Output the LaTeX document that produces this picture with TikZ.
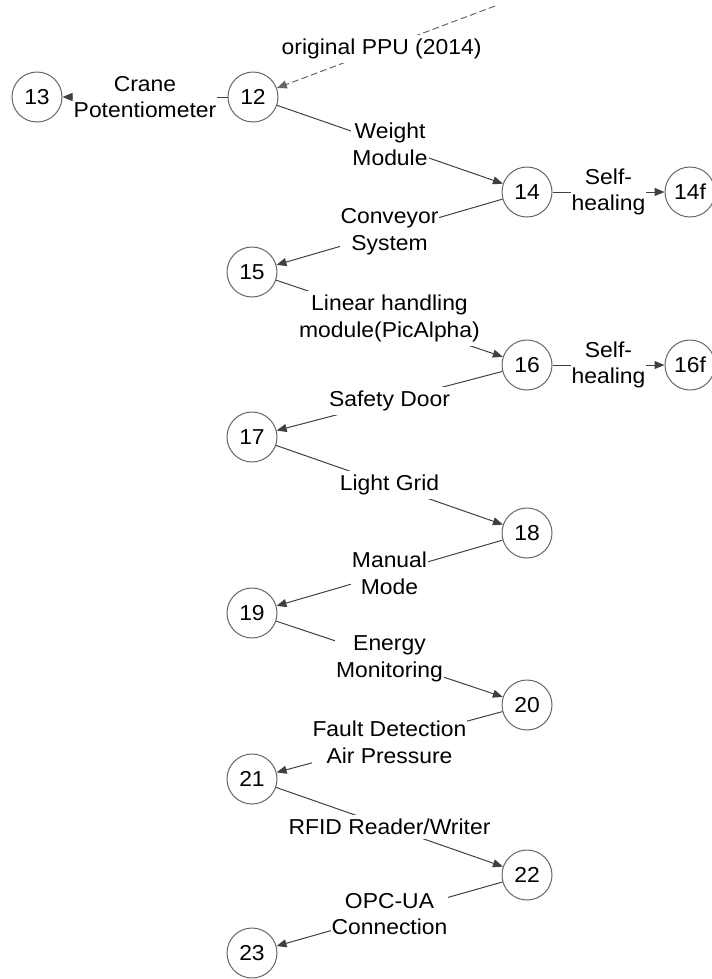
\documentclass[tikz,border=0pt]{standalone}
\usepackage{fontspec}
\setmainfont[FakeStretch=1.06]{Liberation Sans}
\usetikzlibrary{arrows.meta}
\begin{document}
\begin{tikzpicture}[x=0.75pt,y=-0.75pt,
  st/.style={circle,draw=black!60,line width=0.75pt,fill=white,minimum size=37.5pt,inner sep=0pt,font=\fontsize{16.2}{19.8}\selectfont},
  lbl/.style={fill=white,inner xsep=0.75pt,inner ysep=3pt,align=center,font=\fontsize{16.2}{20}\selectfont},
  con/.style={draw=black!75,line width=0.75pt,-{Triangle[length=7.5pt,width=6pt]}},
  orig/.style={draw=black!60,line width=0.75pt,dash pattern=on 5pt off 2.5pt,-{Triangle[length=7.5pt,width=6pt]}}
]
\useasboundingbox (0,0) rectangle (712,979);
\node[st] (n12) at (253,97) {12};
\node[st] (n13) at (37,97) {13};
\node[st] (n14) at (527,192) {14};
\node[st] (n14f) at (690,192) {14f};
\node[st] (n15) at (252,272) {15};
\node[st] (n16) at (527,365) {16};
\node[st] (n16f) at (690,365) {16f};
\node[st] (n17) at (252,437) {17};
\node[st] (n18) at (527,533) {18};
\node[st] (n19) at (252,613) {19};
\node[st] (n20) at (527,705) {20};
\node[st] (n21) at (252,779) {21};
\node[st] (n22) at (527,875) {22};
\node[st] (n23) at (252,953) {23};
\coordinate (ppu) at (495,6);

\draw[orig] (ppu) -- node[lbl,pos=0.52] (lppu) {original PPU (2014)} (n12);
\draw[con] (n12) -- node[lbl] (l13) {Crane\\Potentiometer} (n13);
\draw[con] (n12) -- node[lbl] (l14) {Weight\\Module} (n14);
\draw[con] (n14) -- node[lbl] (l14f) {Self-\\healing} (n14f);
\draw[con] (n14) -- node[lbl] (l15) {Conveyor\\System} (n15);
\draw[con] (n15) -- node[lbl] (l16) {Linear handling\\module(PicAlpha)} (n16);
\draw[con] (n16) -- node[lbl] (l16f) {Self-\\healing} (n16f);
\draw[con] (n16) -- node[lbl] (l17) {Safety Door} (n17);
\draw[con] (n17) -- node[lbl] (l18) {Light Grid} (n18);
\draw[con] (n18) -- node[lbl] (l19) {Manual\\Mode} (n19);
\draw[con] (n19) -- node[lbl] (l20) {Energy\\Monitoring} (n20);
\draw[con] (n20) -- node[lbl] (l21) {Fault Detection\\Air Pressure} (n21);
\draw[con] (n21) -- node[lbl] (l22) {RFID Reader/Writer} (n22);
\draw[con] (n22) -- node[lbl] (l23) {OPC-UA\\Connection} (n23);
\end{tikzpicture}
\end{document}
